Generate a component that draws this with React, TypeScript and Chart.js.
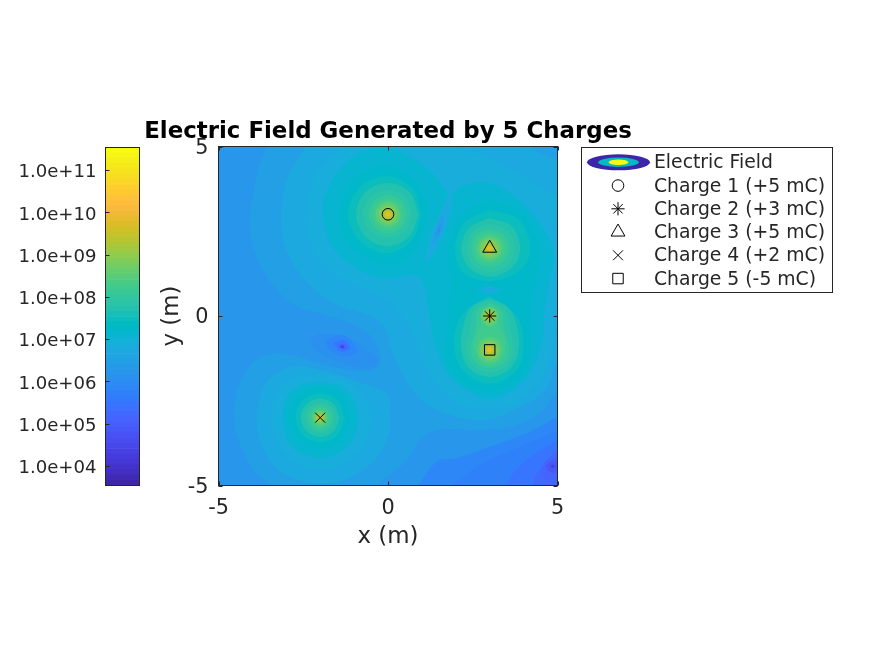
import React, { useEffect, useRef } from "react";
import { Chart, registerables } from "chart.js";
import { drawPoint } from "chart.js/helpers";

Chart.register(...registerables);

const FONT = "'DejaVu Sans', sans-serif";
const INK = "#262626";

const parula: number[][] = [
  [62,38,168],[64,42,180],[66,46,192],[67,50,203],[69,55,213],[70,60,222],[71,65,229],[71,71,235],
  [72,77,240],[72,82,244],[71,88,248],[70,94,251],[69,99,253],[66,105,254],[62,111,255],[56,117,254],
  [50,124,252],[47,129,250],[46,135,247],[45,140,243],[43,145,239],[39,150,235],[37,155,231],[35,160,229],
  [32,165,227],[28,169,223],[24,173,219],[18,177,214],[8,181,208],[1,184,202],[2,186,195],[11,189,189],
  [25,191,182],[36,193,174],[44,196,167],[49,198,159],[55,200,151],[63,202,142],[74,203,132],[87,204,122],
  [100,205,111],[114,205,100],[129,204,89],[143,203,78],[157,201,67],[171,199,57],[185,196,49],[197,194,42],
  [209,191,39],[220,189,41],[230,187,45],[240,186,54],[248,186,61],[254,190,60],[254,195,56],[254,201,51],
  [252,207,45],[250,214,37],[247,221,33],[245,227,30],[245,233,26],[246,239,23],[247,245,21],[249,251,14],
];

const colorbarMin = 3.553;
const colorbarMax = 11.544;
const colorbarTicks = [4, 5, 6, 7, 8, 9, 10, 11];

const xTicks = [-5, 0, 5];
const yTicks = [-5, 0, 5];

// Filled contour outlines: [x, y] in metres. Each is the region above its level.
const above655 = [[-3.59,5.3],[-3.59,5],[-3.85,4.22],[-4.08,2.74],[-3.89,1.76],[-3.44,.97],[-2.85,.37],[-1.86,.03],[-.88,-.32],[-.38,-.76],[-.24,-1.2],[-.29,-1.45],[-.48,-1.6],[-1.17,-1.6],[-2.16,-1.35],[-2.95,-1.13],[-3.84,-1.25],[-4.43,-2.14],[-4.53,-3.13],[-4.28,-4],[-3.84,-4.7],[-3.44,-5],[-3.4,-5.4],[-.3,-5.4],[-.3,-5],[.5,-4.31],[1.05,-3.55],[1.53,-3.36],[2.42,-3.36],[3.5,-3.3],[4.48,-2.86],[5,-2.2],[5.4,-2],[5.4,5.3]];
const above675 = [[-2.45,5.3],[-2.45,5],[-2.95,4.12],[-3.15,2.94],[-3,1.95],[-2.46,1.07],[-1.57,.37],[-.48,-.02],[-.09,-.36],[.1,-1],[.4,-1.65],[.8,-2.29],[1.4,-2.75],[2.2,-3],[3,-3.05],[3.9,-2.68],[4.4,-2.4],[4.75,-2],[5,-1.35],[5.4,-1.35],[5.4,4.6],[5,4.6],[4.25,4.96],[4.2,5.3]];
const above675q4 = [[-3.89,-3.03],[-3.64,-2.04],[-2.85,-1.5],[-1.96,-1.6],[-.88,-1.94],[0,-2.34],[.06,-2.93],[.06,-3.4],[-.29,-4.11],[-.98,-4.7],[-1.99,-4.95],[-3.15,-4.6],[-3.74,-3.82]];
const above695 = [[-1.37,5.3],[-1.37,5],[-2.16,4.12],[-2.41,2.94],[-2.21,1.95],[-1.72,1.31],[-.78,.82],[.06,.47],[.4,0],[.7,-.5],[.9,-1],[1.15,-1.6],[1.6,-2.2],[2.2,-2.6],[3,-2.72],[3.8,-2.55],[4.4,-2],[4.7,-1.5],[4.9,-.8],[5,-.2],[5.4,-.2],[5.4,3.55],[5,3.55],[3.85,4.2],[2.9,4.7],[2,5],[1.9,5.3]];
const above695q4 = [[-3.49,-3.03],[-3.1,-2.05],[-2,-1.72],[-1,-2.05],[-.5,-3],[-.9,-4],[-2,-4.5],[-3.05,-4.05]];
const above715 = [[1.77,3.63],[1.09,4.42],[-.09,4.96],[-1.17,4.6],[-1.86,3.53],[-1.91,2.94],[-1.71,2.15],[-1.17,1.56],[-.19,1.1],[.9,1.16],[1.24,-.12],[1.39,-.86],[1.88,-1.84],[3.02,-2.44],[4.05,-1.84],[4.55,-.76],[4.6,.03],[4.8,1.2],[4.89,1.85],[4.55,2.64],[3.86,3.43],[2.97,3.92],[2.18,3.83],[1.93,3.58],[1.83,2.94],[1.49,2.15],[1.14,1.58],[1.09,1.76],[1.29,2.45],[1.59,3.14]];
const above715q4 = [[-3.15,-3],[-2.85,-2.2],[-2,-1.95],[-1.2,-2.2],[-.88,-3],[-1.2,-3.85],[-2,-4.18],[-2.85,-3.85]];
const above735 = [[3,3.43],[3.9,3.1],[4.4,2.4],[4.5,1.7],[4.35,1],[4.2,.3],[4.2,-.4],[4.2,-1],[4,-1.7],[3.5,-2.1],[3,-2.2],[2.4,-2.1],[1.85,-1.6],[1.7,-1],[1.75,-.4],[1.75,.2],[1.85,1],[1.78,2],[2.2,3]];
const above735q1 = [[1.2,3],[.85,3.9],[0,4.42],[-1,4.05],[-1.47,3],[-1.05,2],[0,1.52],[.8,1.95]];
const above735q4 = [[-1.08,-3],[-1.35,-2.35],[-2,-2.08],[-2.65,-2.35],[-2.92,-3],[-2.65,-3.65],[-2,-3.92],[-1.35,-3.65]];
const above755q1 = [[.98,3],[.72,3.75],[0,4.12],[-.82,3.8],[-1.18,3],[-.82,2.2],[0,1.85],[.72,2.25]];
const above755q3 = [[3,3.13],[3.85,2.85],[4.2,2],[3.9,1.35],[3,1.03],[2.2,1.3],[1.98,2],[2.25,2.75]];
const above755q2 = [[3,.59],[3.6,.2],[3.9,-.2],[4,-1],[3.75,-1.65],[3,-2],[2.25,-1.65],[1.96,-1],[2.05,-.2],[2.4,.25]];
const above755q4 = [[-1.28,-3],[-1.49,-2.49],[-2,-2.28],[-2.51,-2.49],[-2.72,-3],[-2.51,-3.51],[-2,-3.72],[-1.49,-3.51]];
const above775q1 = [[.9,3],[.64,3.64],[0,3.92],[-.66,3.66],[-.94,3],[-.66,2.34],[0,2.06],[.64,2.36]];
const above775q3 = [[3,2.89],[3.65,2.65],[3.9,2],[3.65,1.42],[3,1.16],[2.4,1.42],[2.16,2],[2.4,2.6]];
const above775q2 = [[3,.53],[3.55,.25],[3.8,-.3],[3.85,-1],[3.6,-1.55],[3,-1.8],[2.4,-1.55],[2.16,-1],[2.2,-.4],[2.45,.25]];
const above775q4 = [[-1.43,-3],[-1.6,-2.6],[-2,-2.43],[-2.4,-2.6],[-2.57,-3],[-2.4,-3.4],[-2,-3.57],[-1.6,-3.4]];
const above795q1 = [[.72,3],[.51,3.51],[0,3.72],[-.51,3.51],[-.74,3],[-.51,2.49],[0,2.3],[.51,2.49]];
const above795q3 = [[3,2.72],[3.52,2.52],[3.75,2],[3.52,1.48],[3,1.3],[2.5,1.5],[2.32,2],[2.5,2.5]];
const above795q2 = [[3,.46],[3.45,.22],[3.62,-.4],[3.72,-1],[3.5,-1.45],[3,-1.66],[2.5,-1.45],[2.3,-1],[2.4,-.4],[2.55,.22]];
const above795q4 = [[-1.55,-3],[-1.68,-2.68],[-2,-2.55],[-2.32,-2.68],[-2.45,-3],[-2.32,-3.32],[-2,-3.45],[-1.68,-3.32]];
const above815q1 = [[.57,3],[.4,3.4],[0,3.57],[-.4,3.4],[-.57,3],[-.4,2.6],[0,2.43],[.4,2.6]];
const above815q3 = [[3,2.56],[3.4,2.4],[3.57,2],[3.4,1.6],[3,1.45],[2.6,1.6],[2.45,2],[2.6,2.4]];
const above815q2 = [[3,.39],[3.35,.17],[3.42,-.4],[3.57,-1],[3.4,-1.38],[3,-1.54],[2.6,-1.38],[2.44,-1],[2.58,-.4],[2.65,.17]];
const above815q4 = [[-1.64,-3],[-1.75,-2.75],[-2,-2.64],[-2.25,-2.75],[-2.36,-3],[-2.25,-3.25],[-2,-3.36],[-1.75,-3.25]];
const above835q1 = [[.46,3],[.33,3.33],[0,3.46],[-.33,3.33],[-.46,3],[-.33,2.67],[0,2.54],[.33,2.67]];
const above835q3 = [[3,2.46],[3.33,2.33],[3.46,2],[3.33,1.67],[3,1.56],[2.67,1.67],[2.55,2],[2.67,2.33]];
const above835q2 = [[3,.32],[3.25,.13],[3.28,-.3],[3.45,-.7],[3.45,-1],[3.3,-1.32],[3,-1.45],[2.7,-1.32],[2.55,-1],[2.55,-.7],[2.72,-.3],[2.75,.13]];
const above835q4 = [[-1.72,-3],[-1.8,-2.8],[-2,-2.72],[-2.2,-2.8],[-2.28,-3],[-2.2,-3.2],[-2,-3.28],[-1.8,-3.2]];
const above855q1 = [[.37,3],[.26,3.26],[0,3.37],[-.26,3.26],[-.37,3],[-.26,2.74],[0,2.63],[.26,2.74]];
const above855q3 = [[3,2.37],[3.26,2.26],[3.37,2],[3.26,1.74],[3,1.64],[2.74,1.74],[2.64,2],[2.74,2.26]];
const above855q2 = [[3,.27],[3.19,.19],[3.26,0],[3.19,-.2],[3,-.32],[2.81,-.2],[2.74,0],[2.81,.19]];
const above855q5 = [[3.37,-1],[3.26,-.72],[3,-.62],[2.74,-.72],[2.63,-1],[2.74,-1.28],[3,-1.37],[3.26,-1.28]];
const above855q4 = [[-1.77,-3],[-1.84,-2.84],[-2,-2.77],[-2.16,-2.84],[-2.23,-3],[-2.16,-3.16],[-2,-3.23],[-1.84,-3.16]];
const above875q1 = [[.29,3],[.2,3.2],[0,3.29],[-.2,3.2],[-.29,3],[-.2,2.8],[0,2.71],[.2,2.8]];
const above875q3 = [[3,2.29],[3.2,2.2],[3.29,2],[3.2,1.8],[3,1.71],[2.8,1.8],[2.71,2],[2.8,2.2]];
const above875q2 = [[3.22,0],[3.155,.155],[3,.22],[2.845,.155],[2.78,0],[2.845,-.155],[3,-.24],[3.155,-.155]];
const above875q5 = [[3.29,-1],[3.2,-.8],[3,-.71],[2.8,-.8],[2.71,-1],[2.8,-1.2],[3,-1.29],[3.2,-1.2]];
const above875q4 = [[-1.82,-3],[-2,-2.82],[-2.18,-3],[-2,-3.18]];
const above895q1 = [[.23,3],[.16,3.16],[0,3.23],[-.16,3.16],[-.23,3],[-.16,2.84],[0,2.77],[.16,2.84]];
const above895q3 = [[3.23,2],[3.16,2.16],[3,2.23],[2.84,2.16],[2.77,2],[2.84,1.84],[3,1.77],[3.16,1.84]];
const above895q2 = [[3.175,0],[3,.175],[2.825,0],[3,-.175]];
const above895q5 = [[3.23,-1],[3.16,-.84],[3,-.77],[2.84,-.84],[2.77,-1],[2.84,-1.16],[3,-1.23],[3.16,-1.16]];
const above895q4 = [[-1.86,-3],[-2,-2.86],[-2.14,-3],[-2,-3.14]];
const above915q1 = [[.185,3],[0,3.185],[-.185,3],[0,2.815]];
const above915q3 = [[3.185,2],[3,2.185],[2.815,2],[3,1.815]];
const above915q2 = [[3.14,0],[3,.14],[2.86,0],[3,-.14]];
const above915q5 = [[3.185,-1],[3,-.815],[2.815,-1],[3,-1.185]];
const above915q4 = [[-1.885,-3],[-2,-2.885],[-2.115,-3],[-2,-3.115]];
const above935q1 = [[.145,3],[0,3.145],[-.145,3],[0,2.855]];
const above935q3 = [[3.145,2],[3,2.145],[2.855,2],[3,1.855]];
const above935q2 = [[3.11,0],[3,.11],[2.89,0],[3,-.11]];
const above935q5 = [[3.145,-1],[3,-.855],[2.855,-1],[3,-1.145]];
const above935q4 = [[-1.91,-3],[-2,-2.91],[-2.09,-3],[-2,-3.09]];
const above955q1 = [[.115,3],[0,3.115],[-.115,3],[0,2.885]];
const above955q3 = [[3.115,2],[3,2.115],[2.885,2],[3,1.885]];
const above955q2 = [[3.09,0],[3,.09],[2.91,0],[3,-.09]];
const above955q5 = [[3.115,-1],[3,-.885],[2.885,-1],[3,-1.115]];
const above955q4 = [[-1.93,-3],[-2,-2.93],[-2.07,-3],[-2,-3.07]];
const above975q1 = [[.09,3],[0,3.09],[-.09,3],[0,2.91]];
const above975q3 = [[3.09,2],[3,2.09],[2.91,2],[3,1.91]];
const above975q2 = [[3.07,0],[3,.07],[2.93,0],[3,-.07]];
const above975q5 = [[3.09,-1],[3,-.91],[2.91,-1],[3,-1.09]];
const above975q4 = [[-1.945,-3],[-2,-2.945],[-2.055,-3],[-2,-3.055]];
const above995q1 = [[.07,3],[0,3.07],[-.07,3],[0,2.93]];
const above995q3 = [[3.07,2],[3,2.07],[2.93,2],[3,1.93]];
const above995q5 = [[3.07,-1],[3,-.93],[2.93,-1],[3,-1.07]];

// Local minima: each outline is the region below its level.
const below735hole = [[3.4,.77],[3,.92],[2.58,.77],[3,.62]];
const below715hole = [[3.25,.77],[3,.87],[2.75,.77],[3,.67]];
const below695hole = [[3.15,.77],[3,.83],[2.85,.77],[3,.71]];
const below695lens = [[1.78,3.33],[1.44,2.74],[1.24,2.05],[1.29,1.85],[1.54,2.25],[1.78,2.94]];
const below675lens = [[1.59,2.99],[1.39,2.5],[1.34,2.15],[1.54,2.4],[1.67,2.84]];
const below655lens = [[1.54,2.74],[1.44,2.5],[1.44,2.35],[1.55,2.52]];
const below635lens = [[1.5,2.6],[1.45,2.45],[1.53,2.47]];
const below635lobe = [[-2.35,-.71],[-1.96,-.51],[-1.17,-.66],[-.48,-1.1],[-.3,-1.3],[-.42,-1.5],[-.98,-1.5],[-1.67,-1.27],[-2.16,-1]];
const below615lobe = [[-1.86,-.71],[-1.32,-.56],[-.92,-1],[-1.22,-1.2],[-1.71,-1]];
const below595lobe = [[-1.61,-.81],[-1.32,-.71],[-1.12,-.95],[-1.37,-1.05]];
const below575lobe = [[-1.47,-.86],[-1.32,-.81],[-1.22,-.92],[-1.37,-.98]];
const below555lobe = [[-1.42,-.89],[-1.33,-.85],[-1.28,-.92],[-1.37,-.95]];
const below535lobe = [[-1.39,-.9],[-1.34,-.88],[-1.31,-.92],[-1.36,-.94]];
const below635corner = [[.9,-5],[1.2,-4.55],[1.53,-4.25],[2.03,-4.19],[3,-3.86],[4.1,-3.45],[5,-2.98],[5.4,-2.8],[5.4,-5.4],[.9,-5.4]];
const below615corner = [[1.88,-5],[2.67,-4.41],[3.56,-4],[5,-3.37],[5.4,-3.2],[5.4,-5.4],[1.88,-5.4]];
const below595corner = [[3.5,-5.4],[3.51,-4.93],[3.98,-4.34],[5,-3.66],[5.4,-3.5],[5.4,-5.4]];
const below575corner = [[4.25,-5.4],[4.28,-4.93],[4.48,-4.54],[5,-3.95],[5.4,-3.95],[5.4,-5.4]];
const below555corner = [[4.53,-4.54],[4.68,-4.25],[5,-4.15],[5.4,-4.15],[5.4,-4.9],[4.7,-4.85]];
const below535corner = [[4.65,-4.43],[4.8,-4.28],[5.1,-4.28],[5.2,-4.45],[5,-4.6],[4.78,-4.6]];
const below515corner = [[4.75,-4.43],[4.85,-4.35],[4.98,-4.42],[4.88,-4.52]];
const below495corner = [[4.81,-4.43],[4.85,-4.39],[4.9,-4.43],[4.85,-4.47]];

const backgroundBand = [[-5.4,-5.4],[5.4,-5.4],[5.4,5.4],[-5.4,5.4]];

const regionsAbove: [number, number[][]][] = [
  [6.35, backgroundBand], [6.55, above655], [6.75, above675], [6.75, above675q4], [6.95, above695], [6.95, above695q4],
  [7.15, above715], [7.15, above715q4], [7.35, above735], [7.35, above735q1], [7.35, above735q4],
  [7.55, above755q1], [7.55, above755q3], [7.55, above755q2], [7.55, above755q4],
  [7.75, above775q1], [7.75, above775q3], [7.75, above775q2], [7.75, above775q4],
  [7.95, above795q1], [7.95, above795q3], [7.95, above795q2], [7.95, above795q4],
  [8.15, above815q1], [8.15, above815q3], [8.15, above815q2], [8.15, above815q4],
  [8.35, above835q1], [8.35, above835q3], [8.35, above835q2], [8.35, above835q4],
  [8.55, above855q1], [8.55, above855q3], [8.55, above855q2], [8.55, above855q5], [8.55, above855q4],
  [8.75, above875q1], [8.75, above875q3], [8.75, above875q2], [8.75, above875q5], [8.75, above875q4],
  [8.95, above895q1], [8.95, above895q3], [8.95, above895q2], [8.95, above895q5], [8.95, above895q4],
  [9.15, above915q1], [9.15, above915q3], [9.15, above915q2], [9.15, above915q5], [9.15, above915q4],
  [9.35, above935q1], [9.35, above935q3], [9.35, above935q2], [9.35, above935q5], [9.35, above935q4],
  [9.55, above955q1], [9.55, above955q3], [9.55, above955q2], [9.55, above955q5], [9.55, above955q4],
  [9.75, above975q1], [9.75, above975q3], [9.75, above975q2], [9.75, above975q5], [9.75, above975q4],
  [9.95, above995q1], [9.95, above995q3], [9.95, above995q5],
];

const regionsBelow: [number, number[][]][] = [
  [7.35, below735hole], [7.15, below715hole], [6.95, below695hole],
  [6.95, below695lens], [6.75, below675lens], [6.55, below655lens], [6.35, below635lens],
  [6.35, below635lobe], [6.15, below615lobe], [5.75, below595lobe], [5.35, below575lobe], [4.95, below555lobe], [4.55, below535lobe],
  [6.15, below635corner], [5.95, below615corner], [5.75, below595corner], [5.55, below575corner],
  [5.35, below555corner], [5.15, below535corner], [4.95, below515corner], [4.55, below495corner],
];

const chargeLabels = ["Charge 1 (+5 mC)", "Charge 2 (+3 mC)", "Charge 3 (+5 mC)", "Charge 4 (+2 mC)", "Charge 5 (-5 mC)"];
const chargeX = [0, 3, 3, -2, 3];
const chargeY = [3, 0, 2, -3, -1];
const chargeStyles = ["circle", "star", "triangle", "crossRot", "rect"];
const chargeRadii = [5.8, 6.6, 8, 7, 7.4];

const fieldLabel = "Electric Field";
const titleText = "Electric Field Generated by 5 Charges";

const toColor = (c: number[]) => `rgb(${c[0]},${c[1]},${c[2]})`;
const bandColor = (level: number) => {
  const i = Math.floor(((level - colorbarMin) / (colorbarMax - colorbarMin)) * 64 - 0.5 + 1e-6);
  return toColor(parula[Math.max(0, Math.min(63, i))]);
};

const polygon = (pts: number[][], color: string, order: number) => ({
  label: "contour",
  data: [...pts, pts[0]].map(([x, y]) => ({ x, y })),
  showLine: true,
  fill: "shape",
  backgroundColor: color,
  borderColor: "transparent",
  borderWidth: 0,
  pointRadius: 0,
  pointHoverRadius: 0,
  tension: 0.35,
  capBezierPoints: false,
  order,
});

const inwardTicks = {
  id: "inwardTicks",
  afterDatasetsDraw(chart: any) {
    const { ctx, chartArea: a, scales } = chart;
    ctx.save();
    ctx.strokeStyle = INK;
    ctx.lineWidth = 1;
    ctx.beginPath();
    for (const t of xTicks) {
      const p = Math.round(scales.x.getPixelForValue(t)) + 0.5;
      ctx.moveTo(p, a.bottom); ctx.lineTo(p, a.bottom - 4);
      ctx.moveTo(p, a.top); ctx.lineTo(p, a.top + 4);
    }
    for (const t of yTicks) {
      const p = Math.round(scales.y.getPixelForValue(t)) + 0.5;
      ctx.moveTo(a.left, p); ctx.lineTo(a.left + 4, p);
      ctx.moveTo(a.right, p); ctx.lineTo(a.right - 4, p);
    }
    ctx.stroke();
    ctx.strokeRect(a.left, a.top, a.right - a.left, a.bottom - a.top);
    ctx.font = `bold 22.9px ${FONT}`;
    ctx.fillStyle = "#000";
    ctx.textAlign = "center";
    ctx.textBaseline = "middle";
    ctx.fillText(titleText, (a.left + a.right) / 2, 132);
    ctx.restore();
  },
};

const legendBox = {
  id: "legendBox",
  afterDraw(chart: any) {
    const { ctx } = chart;
    const left = 581.5, top = 147.5, right = 832.5, bottom = 292.5;
    const rowY = (i: number) => 162.3 + i * 23.25;
    ctx.save();
    ctx.fillStyle = "#fff";
    ctx.fillRect(left, top, right - left, bottom - top);
    ctx.strokeStyle = INK;
    ctx.lineWidth = 1;
    ctx.strokeRect(left, top, right - left, bottom - top);
    const swatch: [number, number, number[]][] = [[31.5, 8, parula[0]], [20.3, 4.7, parula[30]], [10, 2.8, parula[63]]];
    for (const [rx, ry, c] of swatch) {
      ctx.fillStyle = toColor(c);
      ctx.beginPath();
      ctx.ellipse(618.5, rowY(0), rx, ry, 0, 0, Math.PI * 2);
      ctx.fill();
    }
    ctx.font = `18.8px ${FONT}`;
    ctx.fillStyle = INK;
    ctx.textBaseline = "middle";
    ctx.textAlign = "left";
    ctx.fillText(fieldLabel, 654, rowY(0) + 1.2);
    chargeLabels.forEach((label, i) => {
      ctx.fillStyle = INK;
      ctx.fillText(label, 654, rowY(i + 1) + 1.2);
      ctx.strokeStyle = "#000";
      ctx.fillStyle = "rgba(0,0,0,0)";
      ctx.lineWidth = 1;
      drawPoint(ctx, { pointStyle: chargeStyles[i], radius: chargeRadii[i], borderWidth: 1, rotation: 0 } as any, 618, rowY(i + 1));
    });
    ctx.restore();
  },
};

const colorbarFrame = {
  id: "colorbarFrame",
  afterDatasetsDraw(chart: any) {
    const { ctx, chartArea: a, scales } = chart;
    ctx.save();
    ctx.strokeStyle = INK;
    ctx.lineWidth = 1;
    ctx.beginPath();
    for (const t of colorbarTicks) {
      const p = Math.floor(scales.y.getPixelForValue(t)) + 0.5;
      ctx.moveTo(a.left, p); ctx.lineTo(a.left + 4, p);
    }
    ctx.stroke();
    ctx.strokeRect(a.left, a.top, a.right - a.left, a.bottom - a.top);
    ctx.restore();
  },
};

const absolute: React.CSSProperties = { position: "absolute", left: 0, top: 0, display: "block" };

export default function App() {
  const mainRef = useRef<HTMLCanvasElement>(null);
  const barRef = useRef<HTMLCanvasElement>(null);

  useEffect(() => {
    const layers = [
      ...regionsAbove.map(([level, pts]) => ({ color: bandColor(level), pts })),
      ...regionsBelow.map(([level, pts]) => ({ color: bandColor(level - 0.2), pts })),
    ];
    const total = layers.length;
    const main = new Chart(mainRef.current as HTMLCanvasElement, {
      type: "scatter",
      data: {
        datasets: [
          ...chargeLabels.map((label, i) => ({
            label,
            data: [{ x: chargeX[i], y: chargeY[i] }],
            pointStyle: chargeStyles[i],
            pointRadius: chargeRadii[i],
            pointHoverRadius: chargeRadii[i],
            pointBorderColor: "#000",
            pointBackgroundColor: "rgba(0,0,0,0)",
            pointBorderWidth: 1,
            showLine: false,
            order: -1,
            clip: false,
          })),
          ...layers.map((l, i) => polygon(l.pts, l.color, total - i)),
        ],
      } as any,
      plugins: [inwardTicks, legendBox],
      options: {
        responsive: false,
        animation: false,
        events: [],
        layout: { padding: { left: 0, top: 146.5, right: 874 - 557.5, bottom: 0 } },
        plugins: {
          legend: { display: false },
          tooltip: { enabled: false },
          title: { display: false },
        },
        scales: {
          x: {
            type: "linear",
            min: -5,
            max: 5,
            afterFit: (s: any) => { s.height = 655 - 485.5; },
            afterBuildTicks: (s: any) => { s.ticks = xTicks.map((value) => ({ value })); },
            grid: { display: false, drawTicks: false },
            border: { display: false },
            ticks: { color: INK, font: { family: FONT, size: 20.8 }, padding: 11, maxRotation: 0, autoSkip: false },
            title: { display: true, text: "x (m)", color: INK, font: { family: FONT, size: 22.9, lineHeight: 1.2 }, padding: { top: 0, bottom: 104 } },
          },
          y: {
            type: "linear",
            min: -5,
            max: 5,
            afterFit: (s: any) => { s.width = 218.5; },
            afterBuildTicks: (s: any) => { s.ticks = yTicks.map((value) => ({ value })); },
            grid: { display: false, drawTicks: false },
            border: { display: false },
            ticks: { color: INK, font: { family: FONT, size: 20.8 }, padding: 10, autoSkip: false, labelOffset: 2 },
            title: { display: true, text: "y (m)", color: INK, font: { family: FONT, size: 22.9, lineHeight: 1.2 }, padding: { top: 158, bottom: 0 } },
          },
        },
      } as any,
    });

    const binSize = (colorbarMax - colorbarMin) / parula.length;
    const bar = new Chart(barRef.current as HTMLCanvasElement, {
      type: "bar",
      data: {
        labels: ["field"],
        datasets: parula.map((c, i) => ({
          label: `bin ${i}`,
          data: [[colorbarMin + i * binSize, colorbarMin + (i + 1) * binSize]],
          backgroundColor: toColor(c),
          borderWidth: 0,
          grouped: false,
          barPercentage: 1,
          categoryPercentage: 1,
        })),
      } as any,
      plugins: [colorbarFrame],
      options: {
        responsive: false,
        animation: false,
        events: [],
        layout: { padding: { left: 0, top: 147.5, right: 874 - 139.5, bottom: 655 - 485.5 } },
        plugins: { legend: { display: false }, tooltip: { enabled: false }, title: { display: false } },
        scales: {
          x: { display: false, offset: true },
          y: {
            type: "linear",
            min: colorbarMin,
            max: colorbarMax,
            afterFit: (s: any) => { s.width = 105.5; },
            afterBuildTicks: (s: any) => { s.ticks = colorbarTicks.map((value) => ({ value })); },
            grid: { display: false, drawTicks: false },
            border: { display: false },
            ticks: {
              color: INK,
              font: { family: FONT, size: 18.1 },
              padding: 9,
              labelOffset: 2,
              autoSkip: false,
              callback: (v: any) => `1.0e+${String(v).padStart(2, "0")}`,
            },
          },
        },
      } as any,
    });

    return () => {
      main.destroy();
      bar.destroy();
    };
  }, []);

  return (
    <div style={{ position: "absolute", left: 0, top: 0, width: 874, height: 655, background: "#fff" }}>
      <canvas ref={mainRef} width={874} height={655} style={absolute} />
      <canvas ref={barRef} width={874} height={655} style={absolute} />
    </div>
  );
}
